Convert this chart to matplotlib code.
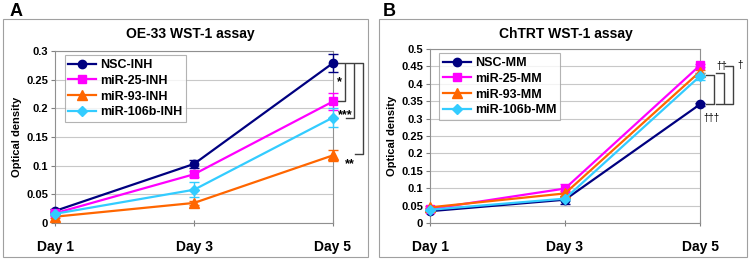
import matplotlib
matplotlib.use("Agg")
import matplotlib.pyplot as plt
from matplotlib.patches import Rectangle
import numpy as np

plt.rcParams['font.family'] = ['Liberation Sans', 'DejaVu Sans']

days = ["Day 1", "Day 3", "Day 5"]

# Panel A: OE-33
a_labels = ["NSC-INH", "miR-25-INH", "miR-93-INH", "miR-106b-INH"]
a_nsc = [0.021, 0.103, 0.279]
a_25 = [0.017, 0.085, 0.212]
a_93 = [0.011, 0.035, 0.118]
a_106b = [0.016, 0.058, 0.184]
a_nsc_err = [0.003, 0.007, 0.015]
a_25_err = [0.003, 0.005, 0.015]
a_93_err = [0.003, 0.004, 0.010]
a_106b_err = [0.003, 0.013, 0.016]

# Panel B: ChTRT
b_labels = ["NSC-MM", "miR-25-MM", "miR-93-MM", "miR-106b-MM"]
b_nsc = [0.034, 0.067, 0.341]
b_25 = [0.040, 0.099, 0.453]
b_93 = [0.045, 0.085, 0.435]
b_106b = [0.038, 0.070, 0.422]
b_nsc_err = [0.003, 0.012, 0.004]
b_25_err = [0.003, 0.012, 0.004]
b_93_err = [0.003, 0.006, 0.004]
b_106b_err = [0.003, 0.006, 0.010]

colors = ["#000080", "#FF00FF", "#FF6600", "#33CCFF"]
markers = ["o", "s", "^", "D"]
msizes = [6, 6, 6.5, 5]

fig = plt.figure(figsize=(7.49, 2.61), dpi=100)

def fx(px):
    return px / 749.0

def fy(py):
    return 1 - py / 261.0

# outer panel boxes
for x0, x1 in [(3, 368), (379, 747)]:
    fig.patches.append(Rectangle((fx(x0), fy(257)), fx(x1 - x0), (257 - 19) / 261.0,
                                 transform=fig.transFigure, fill=False,
                                 edgecolor="#A0A0A0", linewidth=0.8))

fig.text(fx(10), fy(11), "A", fontsize=13, fontweight="bold", va="center", ha="left")
fig.text(fx(383), fy(11), "B", fontsize=13, fontweight="bold", va="center", ha="left")

def make_panel(left, right, top, bottom, ymax, ystep, series, errs, labels, title, title_x):
    ax = fig.add_axes([fx(left), fy(bottom), fx(right - left), (bottom - top) / 261.0])
    x = list(range(len(days)))
    handles = []
    for s, e, c, m, ms, lab in zip(series, errs, colors, markers, msizes, labels):
        ax.errorbar(x, s, yerr=e, color=c, fmt="none", elinewidth=1.0, capsize=3.5,
                    capthick=1.0, clip_on=False, zorder=3)
        h, = ax.plot(x, s, color=c, marker=m, markersize=ms, linewidth=1.6, label=lab,
                     clip_on=False, zorder=4)
        handles.append(h)
    ax.set_xlim(0, 2)
    ax.set_ylim(0, ymax)
    ticks = np.round(np.arange(0, ymax + ystep / 2, ystep), 3)
    ax.set_yticks(ticks)
    ax.set_yticklabels([("%g" % t) for t in ticks], fontsize=8, fontweight="bold")
    ax.set_xticks(x)
    ax.set_xticklabels(days, fontsize=10, fontweight="bold")
    ax.tick_params(axis="x", length=4, width=0.8, color="#808080", pad=10, direction="inout")
    ax.tick_params(axis="y", length=3, width=0.8, color="#808080", pad=2)
    ax.grid(axis="y", color="#C8C8C8", linewidth=0.8)
    ax.set_axisbelow(True)
    for sp in ax.spines.values():
        sp.set_color("#909090")
        sp.set_linewidth(0.8)
    ax.set_ylabel("Optical density", fontsize=8, fontweight="bold", labelpad=3)
    fig.text(fx(title_x), fy(34), title, fontsize=10, fontweight="bold", ha="center", va="center")
    leg = ax.legend(handles=handles, loc="upper left", bbox_to_anchor=(0.035, 0.975),
                    prop={"weight": "bold", "size": 9}, frameon=True, fancybox=False,
                    handlelength=2.2, borderpad=0.3, labelspacing=0.3, handletextpad=0.35,
                    borderaxespad=0)
    leg.get_frame().set_edgecolor("#A0A0A0")
    leg.get_frame().set_linewidth(0.8)
    return ax

axA = make_panel(55, 333, 51, 223, 0.3, 0.05,
                 [a_nsc, a_25, a_93, a_106b], [a_nsc_err, a_25_err, a_93_err, a_106b_err],
                 a_labels, "OE-33 WST-1 assay", 190)
axB = make_panel(430, 700, 49, 223, 0.5, 0.05,
                 [b_nsc, b_25, b_93, b_106b], [b_nsc_err, b_25_err, b_93_err, b_106b_err],
                 b_labels, "ChTRT WST-1 assay", 566)

def bracket(ax, xv, xt, y0, y1):
    tr = ax.get_yaxis_transform()
    ax.plot([xt, xv, xv, xt], [y0, y0, y1, y1], color="#404040", linewidth=1.0,
            transform=tr, clip_on=False)

# Panel A brackets (axes px width 278)
wA = 278.0
bracket(axA, (345 - 55) / wA, (337 - 55) / wA, a_nsc[2], a_25[2])
bracket(axA, (354 - 55) / wA, (346 - 55) / wA, a_nsc[2], a_106b[2])
bracket(axA, (363 - 55) / wA, (355 - 55) / wA, a_nsc[2], a_93[2] + 0.003)
trA = axA.get_yaxis_transform()
axA.text((339 - 55) / wA, (a_nsc[2] + a_25[2]) / 2, "*", transform=trA, fontsize=9,
         fontweight="bold", ha="center", va="center")
axA.text((345 - 55) / wA, a_106b[2] + 0.004, "***", transform=trA, fontsize=9,
         fontweight="bold", ha="center", va="center")
axA.text((350 - 55) / wA, a_93[2] - 0.015, "**", transform=trA, fontsize=9,
         fontweight="bold", ha="center", va="center")

# Panel B brackets (axes px width 270)
wB = 270.0
bracket(axB, (714 - 430) / wB, (706 - 430) / wB, b_106b[2] + 0.004, b_nsc[2])
bracket(axB, (724 - 430) / wB, (716 - 430) / wB, b_93[2] - 0.003, b_nsc[2])
bracket(axB, (733 - 430) / wB, (725 - 430) / wB, b_25[2] - 0.003, b_nsc[2])
trB = axB.get_yaxis_transform()
axB.text((722 - 430) / wB, b_25[2] - 0.003, "\u2020\u2020", transform=trB, fontsize=7,
         ha="center", va="center")
axB.text((740 - 430) / wB, b_25[2], "\u2020", transform=trB, fontsize=7,
         ha="center", va="center")
axB.text((711 - 430) / wB, b_nsc[2] - 0.038, "\u2020\u2020\u2020", transform=trB, fontsize=7,
         ha="center", va="center")

fig.savefig("out.png", dpi=100)
